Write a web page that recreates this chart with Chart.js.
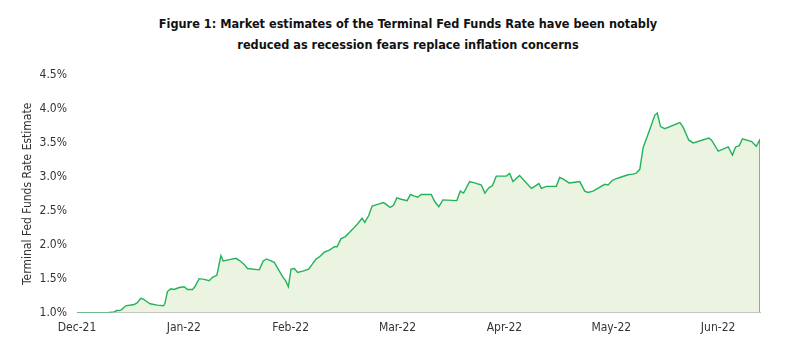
<!DOCTYPE html>
<html>
<head>
<meta charset="utf-8">
<script src="https://cdn.jsdelivr.net/npm/chart.js@4"></script>
<style>
  html, body { margin: 0; padding: 0; background: #fff; }
  #wrap { position: relative; width: 789px; height: 350px; }
  #title {
    position: absolute; left: 0; top: 13px; width: 816px;
    text-align: center; font: bold 12.6px 'DejaVu Sans Condensed', 'Liberation Sans Narrow', sans-serif;
    line-height: 21px; color: #111;
  }
  canvas { position: absolute; left: 0; top: 0; }
</style>
</head>
<body>
<div id="wrap">
  <div id="title">Figure 1: Market estimates of the Terminal Fed Funds Rate have been notably<br>reduced as recession fears replace inflation concerns</div>
  <canvas id="chart" width="789" height="350"></canvas>
</div>
<script>
  // month labels, one per tick (0 = start of Dec-21)
  var monthLabels = ['Dec-21', 'Jan-22', 'Feb-22', 'Mar-22', 'Apr-22', 'May-22', 'Jun-22'];

  // position along the axis, in months since the Dec-21 tick
  var datePos = [
    0, 0.284, 0.347, 0.372, 0.394, 0.415, 0.456, 0.534, 0.560, 0.597,
    0.619, 0.684, 0.753, 0.809, 0.822, 0.846, 0.878, 0.909, 0.956, 1.003,
    1.034, 1.081, 1.103, 1.143, 1.190, 1.237, 1.268, 1.309, 1.347, 1.368,
    1.425, 1.487, 1.518, 1.565, 1.596, 1.706, 1.743, 1.774, 1.846, 1.924,
    1.956, 1.978, 2.003, 2.034, 2.065, 2.112, 2.168, 2.237, 2.268, 2.315,
    2.362, 2.409, 2.434, 2.471, 2.512, 2.580, 2.627, 2.668, 2.693, 2.730,
    2.762, 2.805, 2.868, 2.897, 2.931, 2.962, 2.993, 3.034, 3.090, 3.121,
    3.152, 3.189, 3.221, 3.315, 3.346, 3.386, 3.424, 3.555, 3.587, 3.618,
    3.674, 3.721, 3.784, 3.817, 3.855, 3.887, 3.924, 4.018, 4.049, 4.080,
    4.142, 4.252, 4.283, 4.323, 4.346, 4.393, 4.486, 4.517, 4.548, 4.605,
    4.658, 4.705, 4.752, 4.783, 4.829, 4.939, 4.970, 5.011, 5.042, 5.080,
    5.157, 5.199, 5.230, 5.267, 5.298, 5.345, 5.377, 5.408, 5.431, 5.461,
    5.501, 5.642, 5.670, 5.726, 5.767, 5.914, 5.939, 6.001, 6.095, 6.134,
    6.164, 6.198, 6.228, 6.314, 6.357, 6.392, 6.392
  ];

  // terminal fed funds rate estimate, %
  var rateEst = [
    1.00, 1.00, 1.01, 1.03, 1.03, 1.04, 1.10, 1.12, 1.14, 1.21,
    1.20, 1.13, 1.11, 1.10, 1.13, 1.31, 1.35, 1.34, 1.37, 1.38,
    1.34, 1.34, 1.38, 1.50, 1.49, 1.47, 1.52, 1.55, 1.84, 1.76,
    1.78, 1.80, 1.77, 1.71, 1.65, 1.63, 1.76, 1.79, 1.74, 1.53,
    1.46, 1.38, 1.64, 1.65, 1.59, 1.61, 1.64, 1.79, 1.82, 1.89,
    1.92, 1.97, 1.97, 2.09, 2.12, 2.23, 2.31, 2.39, 2.33, 2.43,
    2.57, 2.59, 2.62, 2.59, 2.55, 2.58, 2.69, 2.67, 2.65, 2.74,
    2.72, 2.70, 2.74, 2.74, 2.64, 2.56, 2.66, 2.65, 2.79, 2.76,
    2.93, 2.91, 2.88, 2.76, 2.84, 2.87, 3.01, 3.01, 3.05, 2.93,
    3.02, 2.83, 2.86, 2.90, 2.83, 2.86, 2.86, 2.99, 2.97, 2.91,
    2.92, 2.93, 2.79, 2.77, 2.79, 2.89, 2.88, 2.95, 2.97, 2.99,
    3.03, 3.04, 3.05, 3.11, 3.43, 3.63, 3.77, 3.91, 3.94, 3.74,
    3.71, 3.80, 3.74, 3.54, 3.50, 3.57, 3.54, 3.38, 3.44, 3.32,
    3.44, 3.46, 3.56, 3.52, 3.45, 3.55, 1.00
  ];

  var yTicks = [1.0, 1.5, 2.0, 2.5, 3.0, 3.5, 4.0, 4.5];

  var fontFamily = "'DejaVu Sans Condensed', 'Liberation Sans Narrow', sans-serif";
  Chart.defaults.font.family = fontFamily;
  Chart.defaults.color = '#333';

  var points = datePos.map(function (x, i) {
    return { x: x, y: rateEst[i] };
  });

  new Chart(document.getElementById('chart'), {
    type: 'line',
    data: {
      datasets: [
        {
          data: points,
          borderColor: '#22b35a',
          borderWidth: 1.4,
          backgroundColor: '#eaf4e0',
          fill: 'start',
          pointRadius: 0,
          tension: 0,
        },
      ],
    },
    options: {
      responsive: false,
      animation: false,
      layout: { padding: { top: 75, right: 29, bottom: 7, left: 0 } },
      plugins: {
        legend: { display: false },
        tooltip: { enabled: false },
      },
      scales: {
        x: {
          type: 'linear',
          min: 0,
          max: datePos[datePos.length - 1],
          z: 1,
          grid: { display: false, drawTicks: false },
          border: { display: true, color: '#bfbfbf', width: 1 },
          afterBuildTicks: function (scale) {
            scale.ticks = monthLabels.map(function (_l, i) { return { value: i }; });
          },
          ticks: {
            padding: 8,
            maxRotation: 0,
            autoSkip: false,
            font: { size: 12 },
            callback: function (v) { return monthLabels[v]; },
          },
        },
        y: {
          min: yTicks[0],
          max: yTicks[yTicks.length - 1],
          grid: { display: false, drawTicks: false },
          border: { display: false },
          afterFit: function (scale) { scale.width = 77; },
          afterBuildTicks: function (scale) {
            scale.ticks = yTicks.map(function (v) { return { value: v }; });
          },
          ticks: {
            padding: 10,
            font: { size: 12 },
            callback: function (v) { return v.toFixed(1) + '%'; },
          },
          title: {
            display: true,
            text: 'Terminal Fed Funds Rate Estimate',
            font: { size: 12 },
            padding: { top: 21, bottom: 0 },
          },
        },
      },
    },
  });
</script>
</body>
</html>
